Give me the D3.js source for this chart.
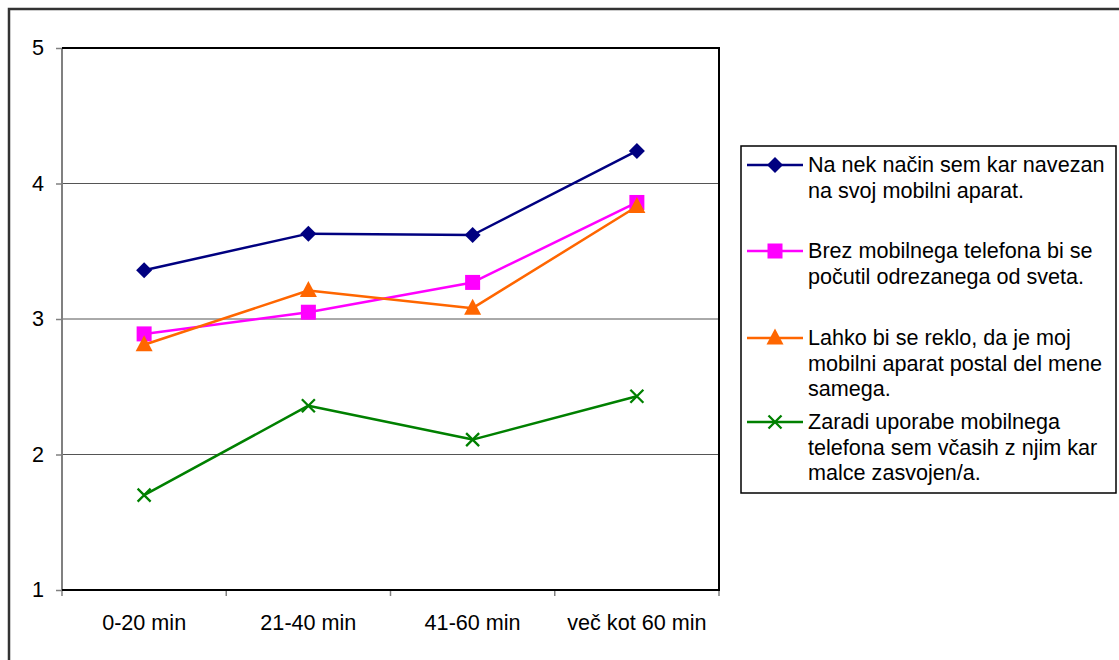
<!DOCTYPE html>
<html>
<head>
<meta charset="utf-8">
<script src="https://cdn.jsdelivr.net/npm/d3@7"></script>
<style>
  html, body { margin: 0; padding: 0; background: #fff; }
  svg { display: block; }
  text { font-family: "Liberation Sans", Arial, sans-serif; fill: #000; }
</style>
</head>
<body>
<svg id="chart" width="1119" height="660"></svg>
<script>
const categories = ["0-20 min", "21-40 min", "41-60 min", "več kot 60 min"];
const yTicks = [1, 2, 3, 4, 5];

const seriesNames = [
  ["Na nek način sem kar navezan", "na svoj mobilni aparat."],
  ["Brez mobilnega telefona bi se", "počutil odrezanega od sveta."],
  ["Lahko bi se reklo, da je moj", "mobilni aparat postal del mene", "samega."],
  ["Zaradi uporabe mobilnega", "telefona sem včasih z njim kar", "malce zasvojen/a."]
];
const navezan = [3.36, 3.63, 3.62, 4.24];
const odrezan = [2.89, 3.05, 3.27, 3.86];
const delMene = [2.81, 3.21, 3.08, 3.83];
const zasvojen = [1.70, 2.36, 2.11, 2.43];

const seriesValues = [navezan, odrezan, delMene, zasvojen];
const colors = ["#000080", "#FF00FF", "#FF6600", "#008000"];
const markers = ["diamond", "square", "triangle", "cross"];

const FS = 21.6;
const svg = d3.select("#chart");
const W = 1119, H = 660;
const plot = { left: 62, right: 719, top: 48, bottom: 590 };

// outer border
svg.append("rect").attr("x", 9).attr("y", 9).attr("width", W + 10).attr("height", H + 10)
  .attr("fill", "none").attr("stroke", "#333").attr("stroke-width", 2.5);

const x = d3.scaleBand().domain(categories).range([plot.left, plot.right]);
const y = d3.scaleLinear().domain([1, 5]).range([plot.bottom, plot.top]);
const cx = c => x(c) + x.bandwidth() / 2;

// gridlines
svg.append("g").selectAll("line").data(yTicks.filter(t => t > 1 && t < 5)).join("line")
  .attr("x1", plot.left).attr("x2", plot.right)
  .attr("y1", d => y(d)).attr("y2", d => y(d))
  .attr("stroke", "#555").attr("stroke-width", 1);

// y axis
const yAxis = d3.axisLeft(y).tickValues(yTicks).tickFormat(d3.format("d")).tickSize(6).tickPadding(12);
const gy = svg.append("g").attr("transform", `translate(${plot.left},0)`).call(yAxis);
gy.select(".domain").remove();
gy.selectAll(".tick line").attr("stroke", "#808080").attr("stroke-width", 1.5);
gy.selectAll(".tick text").attr("font-size", FS).style("font-family", "Liberation Sans, Arial, sans-serif").attr("fill", "#000");

// x axis: labels at centers
const xAxis = d3.axisBottom(x).tickSize(0).tickPadding(25);
const gx = svg.append("g").attr("transform", `translate(0,${plot.bottom})`).call(xAxis);
gx.select(".domain").remove();
gx.selectAll(".tick text").attr("font-size", FS).style("font-family", "Liberation Sans, Arial, sans-serif").attr("fill", "#000");
// tick marks at band boundaries
const boundaries = categories.map(c => x(c)).concat([x(categories[categories.length - 1]) + x.bandwidth()]);
svg.append("g").selectAll("line").data(boundaries).join("line")
  .attr("x1", d => d).attr("x2", d => d)
  .attr("y1", plot.bottom).attr("y2", plot.bottom + 6)
  .attr("stroke", "#808080").attr("stroke-width", 1.5);

// plot frame
svg.append("line").attr("x1", plot.left).attr("x2", plot.left).attr("y1", plot.top).attr("y2", plot.bottom)
  .attr("stroke", "#808080").attr("stroke-width", 2);
svg.append("path")
  .attr("d", `M${plot.left},${plot.top}H${plot.right}V${plot.bottom}H${plot.left}`)
  .attr("fill", "none").attr("stroke", "#000").attr("stroke-width", 2);

// marker drawing
function drawMarker(g, type, color, px, py) {
  if (type === "diamond") {
    g.append("path").attr("d", `M${px},${py - 8}L${px + 8},${py}L${px},${py + 8}L${px - 8},${py}Z`)
      .attr("fill", color);
  } else if (type === "square") {
    g.append("rect").attr("x", px - 7.5).attr("y", py - 7.5).attr("width", 15).attr("height", 15).attr("fill", color);
  } else if (type === "triangle") {
    g.append("path").attr("d", `M${px},${py - 9.5}L${px + 8.5},${py + 6.5}L${px - 8.5},${py + 6.5}Z`).attr("fill", color);
  } else if (type === "cross") {
    g.append("path").attr("d", `M${px - 6.5},${py - 6.5}L${px + 6.5},${py + 6.5}M${px - 6.5},${py + 6.5}L${px + 6.5},${py - 6.5}`)
      .attr("stroke", color).attr("stroke-width", 2.3).attr("fill", "none");
  }
}

const line = d3.line().x((d, i) => cx(categories[i])).y(d => y(d));

seriesValues.forEach((vals, si) => {
  const g = svg.append("g");
  g.append("path").datum(vals).attr("d", line)
    .attr("fill", "none").attr("stroke", colors[si]).attr("stroke-width", 2.5).attr("stroke-linejoin", "round");
  vals.forEach((v, i) => drawMarker(g, markers[si], colors[si], cx(categories[i]), y(v)));
});

// legend
const lg = { x: 741, y: 146, w: 375, h: 347 };
svg.append("rect").attr("x", lg.x).attr("y", lg.y).attr("width", lg.w).attr("height", lg.h)
  .attr("fill", "#fff").attr("stroke", "#000").attr("stroke-width", 1.5);
const entryY = [165, 251, 338, 422];
seriesNames.forEach((lines, si) => {
  const g = svg.append("g");
  const my = entryY[si];
  g.append("line").attr("x1", 747).attr("x2", 803).attr("y1", my).attr("y2", my)
    .attr("stroke", colors[si]).attr("stroke-width", 2.5);
  drawMarker(g, markers[si], colors[si], 775, my);
  const t = g.append("text").attr("x", 808).attr("y", my + 7).attr("font-size", FS);
  lines.forEach((ln, li) => {
    t.append("tspan").attr("x", 808).attr("dy", li === 0 ? 0 : 25.5).text(ln);
  });
});
</script>
</body>
</html>
